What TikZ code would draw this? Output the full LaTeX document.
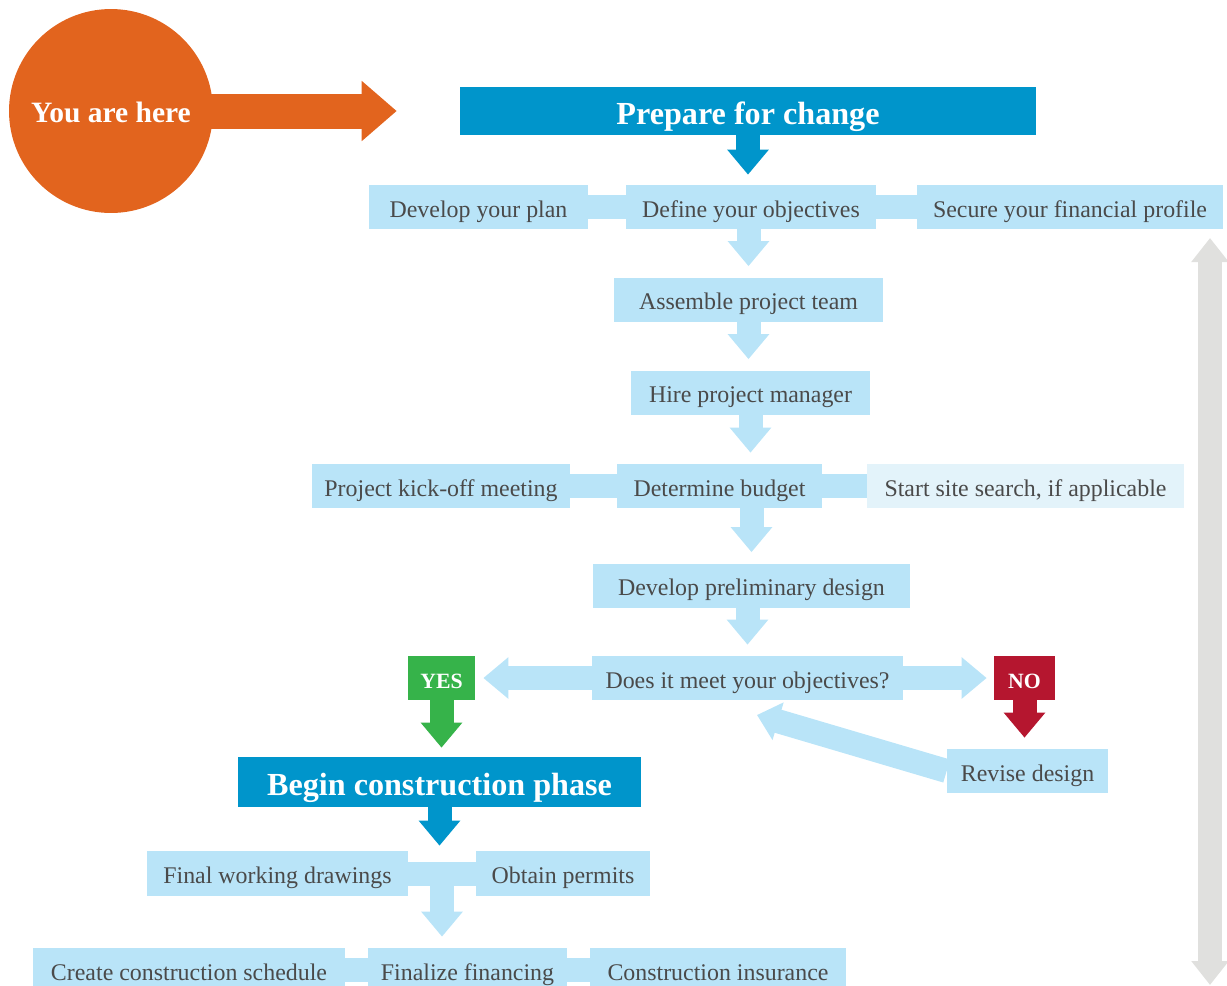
\documentclass[tikz,border=0pt]{standalone}
\usepackage{fontspec}
\setmainfont{Liberation Serif}
\usetikzlibrary{arrows.meta,calc}

\definecolor{lightblue}{HTML}{B9E4F8}
\definecolor{paleblue}{HTML}{E3F3FA}
\definecolor{darkblue}{HTML}{0095CB}
\definecolor{hereorange}{HTML}{E2641E}
\definecolor{yesgreen}{HTML}{36B34A}
\definecolor{nored}{HTML}{B5162F}
\definecolor{railgray}{HTML}{E0E0DE}
\definecolor{boxtext}{HTML}{4A4A4A}

\begin{document}
\begin{tikzpicture}[x=0.02cm, y=-0.02cm,
	box/.style={fill=lightblue, text=boxtext, inner sep=0pt, minimum height=0.88cm,
		text height=0.44cm, text depth=0.04cm,
		font=\fontsize{13.6}{16}\selectfont},
	head/.style={fill=darkblue, text=white, inner sep=0pt,
		text height=0.56cm, text depth=0.04cm,
		font=\bfseries\fontsize{18.3}{22}\selectfont},
	tag/.style={text=white, inner sep=0pt, minimum height=0.88cm,
		text height=0.44cm, text depth=0.04cm,
		font=\bfseries\fontsize{12.4}{14}\selectfont},
	link/.style={draw=lightblue, line width=0.48cm},
	flow/.style={draw=lightblue, line width=0.48cm,
		-{Triangle[length=0.5cm,width=0.8cm]}, shorten >=0.22cm}]
	
	\useasboundingbox (0,0) rectangle (1227,985);
	
	% ------------------------------------------------------------
	% Rows
	% ------------------------------------------------------------
	
	\def\rowhead{111}
	\def\rowa{207}
	\def\rowb{299.5}
	\def\rowc{392.5}
	\def\rowd{486}
	\def\rowe{585.5}
	\def\rowf{678}
	\def\rowg{771}
	\def\rowh{873.5}
	\def\rowi{970}
	
	% ------------------------------------------------------------
	% You are here
	% ------------------------------------------------------------
	
	\node[circle, fill=hereorange, text=white, inner sep=0pt, minimum size=4.08cm,
	text height=0.5cm, text depth=0.04cm,
	font=\bfseries\fontsize{16.8}{20}\selectfont] (here) at (111,\rowhead)
	{You are here};
	
	% ------------------------------------------------------------
	% Phase 1
	% ------------------------------------------------------------
	
	\node[head, minimum width=11.52cm, minimum height=0.96cm] (prep) at (748,\rowhead)
	{Prepare for change};
	
	\node[box, minimum width=4.38cm] (plan) at (478.5,\rowa) {Develop your plan};
	\node[box, minimum width=5cm]    (obj)  at (751,\rowa)   {Define your objectives};
	\node[box, minimum width=6.12cm] (fin)  at (1070,\rowa)  {Secure your financial profile};
	
	\node[box, minimum width=5.38cm] (team) at (748.5,\rowb) {Assemble project team};
	\node[box, minimum width=4.78cm] (pm)   at (750.5,\rowc) {Hire project manager};
	
	\node[box, minimum width=5.16cm] (kick)   at (441,\rowd)    {Project kick-off meeting};
	\node[box, minimum width=4.1cm]  (budget) at (719.5,\rowd)  {Determine budget};
	\node[box, minimum width=6.34cm, fill=paleblue] (site) at (1025.5,\rowd)
	{Start site search, if applicable};
	
	\node[box, minimum width=6.34cm] (prelim) at (751.5,\rowe) {Develop preliminary design};
	\node[box, minimum width=6.22cm] (q)      at (747.5,\rowf) {Does it meet your objectives?};
	
	\node[tag, fill=yesgreen, minimum width=1.34cm] (yes) at (441.5,\rowf)  {YES};
	\node[tag, fill=nored,    minimum width=1.22cm] (no)  at (1024.5,\rowf) {NO};
	
	\node[box, minimum width=3.22cm] (revise) at (1027.5,\rowg) {Revise design};
	
	% ------------------------------------------------------------
	% Phase 2
	% ------------------------------------------------------------
	
	\node[head, minimum width=8.06cm, minimum height=1cm] (begin) at (439.5,782)
	{Begin construction phase};
	
	\node[box, minimum width=5.22cm, minimum height=0.9cm] (draw)   at (277.5,\rowh) {Final working drawings};
	\node[box, minimum width=3.48cm, minimum height=0.9cm] (permit) at (563,\rowh)   {Obtain permits};
	
	\node[box, minimum width=6.24cm] (sched)     at (189,\rowi)   {Create construction schedule};
	\node[box, minimum width=3.98cm] (financing) at (467.5,\rowi) {Finalize financing};
	\node[box, minimum width=5.12cm] (insur)     at (718,\rowi)   {Construction insurance};
	
	% ------------------------------------------------------------
	% Side links
	% ------------------------------------------------------------
	
	\draw[link] (plan.east) -- (obj.west);
	\draw[link] (obj.east) -- (fin.west);
	\draw[link] (kick.east) -- (budget.west);
	\draw[link] (budget.east) -- (site.west);
	\draw[link] (draw.east) -- (permit.west);
	\draw[link] (sched.east) -- (financing.west);
	\draw[link] (financing.east) -- (insur.west);
	
	% ------------------------------------------------------------
	% Arrows
	% ------------------------------------------------------------
	
	\draw[draw=hereorange, line width=0.7cm, -{Triangle[length=0.7cm,width=1.16cm]},
	shorten <=-0.06cm, shorten >=1.26cm] (here.east) -- (prep.west);
	
	\draw[flow, draw=darkblue, shorten >=0.2cm] (prep.south) -- (prep.south |- obj.north);
	\draw[flow] (team.north |- obj.south) -- (team.north);
	\draw[flow] (team.south) -- (team.south |- pm.north);
	\draw[flow] (pm.south) -- (pm.south |- budget.north);
	\draw[flow] (prelim.north |- budget.south) -- (prelim.north);
	\draw[flow] (q.north |- prelim.south) -- (q.north);
	
	\draw[flow, shorten >=0.16cm] (q.west) -- (yes.east);
	\draw[flow, shorten >=0.14cm] (q.east) -- (no.west);
	
	\draw[flow, draw=yesgreen, shorten >=0.18cm] (yes.south) -- (yes.south |- begin.north);
	\draw[flow, draw=nored] (no.south) -- (no.south |- revise.north);
	
	\coordinate (backtip) at (757,715);
	\draw[flow, shorten >=0pt, -{Triangle[length=0.44cm,width=0.76cm]}]
	(revise.west) -- (backtip);
	
	\draw[flow, draw=darkblue, shorten >=0.1cm] (begin.south) -- (begin.south |- draw.north);
	
	\coordinate (fork) at ($(draw.east)!0.5!(permit.west)$);
	\draw[flow] (fork) -- (fork |- financing.north);
	
	% ------------------------------------------------------------
	% Side rail
	% ------------------------------------------------------------
	
	\coordinate (railtop) at (1210,238);
	\coordinate (railbot) at (1210,985);
	\draw[draw=railgray, line width=0.48cm,
	{Triangle[length=0.48cm,width=0.72cm]}-{Triangle[length=0.48cm,width=0.72cm]}]
	(railtop) -- (railbot);
\end{tikzpicture}
\end{document}
